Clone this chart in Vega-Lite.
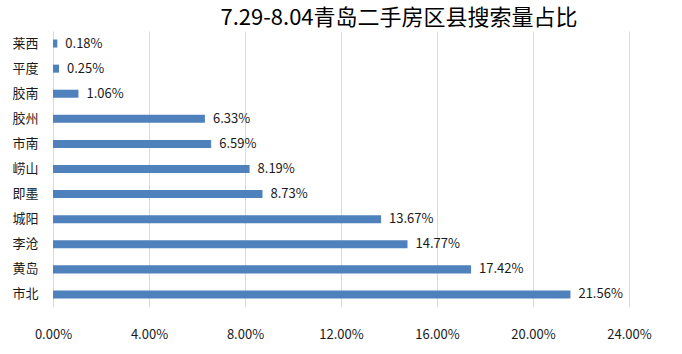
{
  "$schema": "https://vega.github.io/schema/vega-lite/v6.json",
  "autosize": {"type": "none"},
  "width": 576,
  "height": 276,
  "padding": {"left": 53, "top": 31, "right": 53, "bottom": 47},
  "background": "white",
  "title": {
    "text": "7.29-8.04青岛二手房区县搜索量占比",
    "font": "Noto Sans CJK SC",
    "fontSize": 22,
    "fontWeight": "normal",
    "color": "#000000",
    "anchor": "middle",
    "dx": 58,
    "offset": 1
  },
  "data": {
    "values": [
      {"area": "莱西", "share": 0.0018},
      {"area": "平度", "share": 0.0025},
      {"area": "胶南", "share": 0.0106},
      {"area": "胶州", "share": 0.0633},
      {"area": "市南", "share": 0.0659},
      {"area": "崂山", "share": 0.0819},
      {"area": "即墨", "share": 0.0873},
      {"area": "城阳", "share": 0.1367},
      {"area": "李沧", "share": 0.1477},
      {"area": "黄岛", "share": 0.1742},
      {"area": "市北", "share": 0.2156}
    ]
  },
  "config": {
    "view": {"stroke": null},
    "font": "Noto Sans CJK SC"
  },
  "encoding": {
    "y": {
      "field": "area",
      "type": "nominal",
      "sort": null,
      "title": null,
      "scale": {"paddingInner": 0.68, "paddingOuter": 0.34},
      "axis": {
        "domain": false,
        "ticks": false,
        "labelPadding": 15,
        "labelFontSize": 13,
        "labelColor": "#1a1a1a",
        "labelFont": "Noto Sans CJK SC"
      }
    },
    "x": {
      "field": "share",
      "type": "quantitative",
      "title": null,
      "scale": {"domain": [0, 0.24], "nice": false},
      "axis": {
        "values": [0, 0.04, 0.08, 0.12, 0.16, 0.2, 0.24],
        "format": ".2%",
        "domain": false,
        "ticks": false,
        "grid": true,
        "gridColor": "#d9d9d9",
        "gridWidth": 1,
        "labelFlush": false,
        "labelPadding": 21,
        "labelFontSize": 13,
        "labelColor": "#1a1a1a",
        "labelFont": "Noto Sans CJK SC"
      }
    }
  },
  "layer": [
    {"mark": {"type": "bar", "color": "#4f81bd"}},
    {
      "mark": {"type": "text", "align": "left", "dx": 8, "fontSize": 13, "color": "#1a1a1a", "font": "Noto Sans CJK SC"},
      "encoding": {"text": {"field": "share", "type": "quantitative", "format": ".2%"}}
    }
  ]
}
